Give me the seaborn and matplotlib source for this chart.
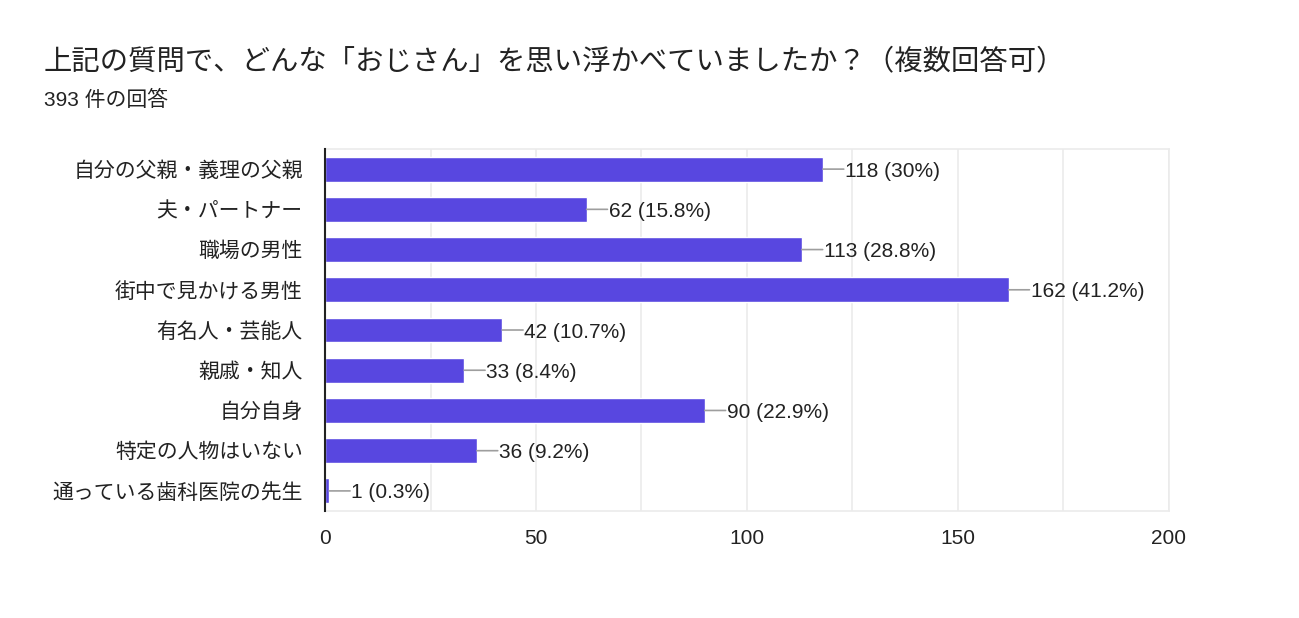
import matplotlib
matplotlib.use("Agg")
import matplotlib.pyplot as plt
import seaborn as sns
import pandas as pd
from matplotlib.ticker import MultipleLocator

# data
categories = ["自分の父親・義理の父親", "夫・パートナー", "職場の男性", "街中で見かける男性",
              "有名人・芸能人", "親戚・知人", "自分自身", "特定の人物はいない",
              "通っている歯科医院の先生"]
counts = [118, 62, 113, 162, 42, 33, 90, 36, 1]
percents = ["30%", "15.8%", "28.8%", "41.2%", "10.7%", "8.4%", "22.9%", "9.2%", "0.3%"]

title = "上記の質問で、どんな「おじさん」を思い浮かべていましたか？（複数回答可）"
subtitle = "393 件の回答"

sns.set_theme(style="white")
plt.rcParams['font.family'] = ['Liberation Sans', 'Noto Sans CJK JP', 'DejaVu Sans']

df = pd.DataFrame({"cat": categories, "n": counts})

fig = plt.figure(figsize=(12.99, 6.18), dpi=100)
ax = fig.add_axes([0.2502, 0.1731, 0.6497, 0.5858])

sns.barplot(data=df, x="n", y="cat", orient="h", color="#5847e0",
            saturation=1, width=0.62, ax=ax, zorder=3)

ax.set_xlim(0, 200)
ax.set_ylim(len(categories) - 0.5, -0.5)
ax.xaxis.set_major_locator(MultipleLocator(50))
ax.xaxis.set_minor_locator(MultipleLocator(25))
ax.grid(axis="x", which="both", color="#ebebeb", linewidth=1.2, zorder=0)
ax.set_axisbelow(True)
ax.set_xlabel("")
ax.set_ylabel("")
ax.tick_params(axis="both", length=0, labelsize=15, colors="#222222")
ax.tick_params(axis="y", pad=16)
ax.tick_params(axis="x", pad=13)

for side in ["top", "right", "bottom"]:
    ax.spines[side].set_color("#ebebeb")
    ax.spines[side].set_linewidth(1.2)
ax.spines["left"].set_color("#222222")
ax.spines["left"].set_linewidth(1.5)
ax.spines["left"].set_zorder(5)

for i, (n, p) in enumerate(zip(counts, percents)):
    # short grey connector from bar end to the label
    ax.annotate("", xy=(n, i), xytext=(15, 0), textcoords="offset points",
                arrowprops=dict(arrowstyle="-", color="#9e9e9e", lw=1.2,
                                shrinkA=0, shrinkB=0))
    ax.annotate(f"{n} ({p})", xy=(n, i), xytext=(16, 0), textcoords="offset points",
                va="center_baseline", ha="left", fontsize=15, color="#222222")

fig.text(44 / 1299, 1 - 62 / 618, title, fontsize=20.4, color="#222222", va="center", ha="left")
fig.text(44 / 1299, 1 - 100 / 618, subtitle, fontsize=15, color="#222222", va="center", ha="left")

fig.savefig("out.png", dpi=100, facecolor="white")
